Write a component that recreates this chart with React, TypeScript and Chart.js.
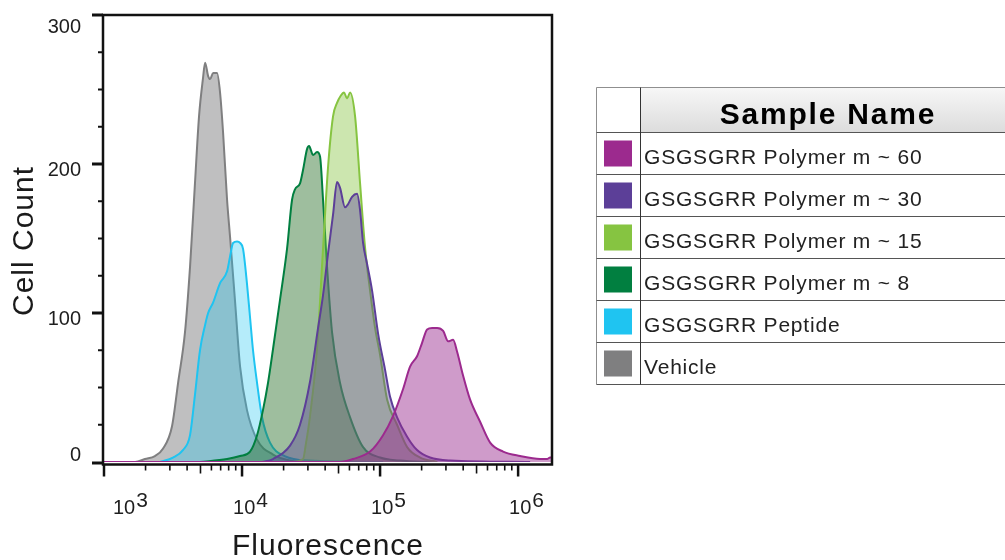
import { useEffect, useRef } from "react";
import { Chart, registerables } from "chart.js";

Chart.register(...registerables);

// Sample names, in table order (first one is drawn on top)
const sampleNames = [
  "GSGSGRR Polymer m ~ 60",
  "GSGSGRR Polymer m ~ 30",
  "GSGSGRR Polymer m ~ 15",
  "GSGSGRR Polymer m ~ 8",
  "GSGSGRR Peptide",
  "Vehicle",
];

const lineColors = ["#9c2a8e", "#5c3f98", "#86c441", "#017f40", "#1fc4f1", "#7f7f80"];
const fillColors = [
  "rgba(154, 42, 142, 0.47)",
  "rgba(91, 62, 152, 0.40)",
  "rgba(134, 196, 64, 0.42)",
  "rgba(40, 110, 40, 0.45)",
  "rgba(30, 197, 240, 0.33)",
  "rgba(128, 128, 130, 0.50)",
];

// Histogram bins: fluorescence intensity and cell count per sample
const m60Fluor = [1000, 51290, 63700, 84660, 105100, 124300, 146800, 164900, 185300, 201500, 219100, 238300, 259100, 286400, 311300, 338100, 361500, 399300, 448400, 530400, 627000, 778600, 1033000, 1442000, 1620000, 1706000, 1760000];
const m60Count = [0, 0, 2, 7, 18, 31, 49, 64, 71, 80, 89, 90, 90, 88, 81, 82, 74, 58, 42, 27, 13, 7, 4, 2, 2, 3, 3];

const m30Fluor = [14000, 16780, 22280, 26300, 31100, 35550, 38620, 41990, 45630, 48780, 51290, 55730, 58590, 62670, 68130, 71630, 75310, 80520, 87510, 96800, 108600, 118000, 132800, 157000, 185300, 230000, 321600, 1222000];
const m30Count = [0, 2, 11, 25, 54, 90, 112, 140, 166, 188, 184, 171, 173, 178, 180, 169, 147, 133, 115, 86, 62, 44, 30, 17, 8, 3, 1, 0];

const m15Fluor = [22280, 27660, 29000, 31100, 34940, 38620, 41990, 45630, 48780, 52000, 54830, 57630, 60630, 65910, 71630, 77800, 84660, 92000, 100000, 112400, 132800, 157000, 195000, 260000];
const m15Count = [0, 2, 12, 31, 76, 143, 198, 232, 241, 246, 248, 244, 248, 232, 187, 144, 115, 90, 72, 42, 25, 10, 3, 0];

const m8Fluor = [4960, 7790, 9680, 11430, 12850, 14190, 15420, 16780, 18850, 21180, 23030, 24200, 26300, 27660, 29570, 30590, 32680, 34940, 36730, 38620, 41290, 44890, 51290, 60630, 75310, 100000, 139000, 242000];
const m8Count = [0, 2, 4, 7, 18, 35, 53, 76, 109, 143, 176, 183, 187, 196, 210, 212, 206, 208, 205, 176, 131, 87, 53, 30, 10, 3, 1, 0];

const peptideFluor = [2540, 3160, 3730, 4200, 4560, 4960, 5400, 5680, 6170, 6930, 7790, 8190, 8610, 9210, 9680, 10170, 10850, 11430, 12010, 12850, 13960, 15940, 20400, 31100, 105100];
const peptideCount = [0, 3, 8, 18, 45, 75, 92, 100, 107, 120, 128, 138, 147, 148, 147, 143, 120, 97, 75, 53, 30, 13, 4, 1, 0];

const vehicleFluor = [1000, 1680, 1980, 2340, 2680, 3110, 3440, 3860, 4200, 4560, 4880, 5220, 5400, 5680, 5870, 6170, 6590, 6930, 7290, 7790, 8190, 8880, 9680, 10850, 12850, 16780, 22280, 31100];
const vehicleCount = [0, 0, 2, 4, 9, 24, 53, 87, 131, 187, 232, 258, 268, 259, 257, 261, 261, 248, 221, 176, 151, 109, 64, 35, 15, 5, 1, 0];

const fluorSeries = [m60Fluor, m30Fluor, m15Fluor, m8Fluor, peptideFluor, vehicleFluor];
const countSeries = [m60Count, m30Count, m15Count, m8Count, peptideCount, vehicleCount];

// Axis ticks
const fluorMin = 1000;
const fluorMax = 1760000;
const decadeExponents = [3, 4, 5, 6];
const minorMultipliers = [2, 3, 4, 5, 6, 7, 8, 9];
const countTicks = [0, 100, 200, 300];
const countMinorStep = 25;

const FONT = '"Liberation Sans", Arial, Helvetica, sans-serif';

const frameAndTicks = {
  id: "frameAndTicks",
  afterDatasetsDraw(chart: any) {
    const { ctx, chartArea: a, scales } = chart;
    const xs = scales.x;
    const ys = scales.y;
    const axisY = a.bottom + 2.5;
    const axisX = a.left - 1;
    ctx.save();
    ctx.strokeStyle = "#111";
    ctx.lineCap = "butt";

    // plot frame
    ctx.lineWidth = 2.5;
    ctx.beginPath();
    ctx.moveTo(axisX, a.top);
    ctx.lineTo(a.right + 1.25, a.top);
    ctx.moveTo(a.right, a.top);
    ctx.lineTo(a.right, axisY);
    ctx.moveTo(axisX, a.top - 1.25);
    ctx.lineTo(axisX, axisY + 1.25);
    ctx.moveTo(axisX, axisY);
    ctx.lineTo(a.right + 1.25, axisY);
    ctx.stroke();

    // count axis ticks
    const countMax = countTicks[countTicks.length - 1];
    for (let v = 0; v <= countMax; v += countMinorStep) {
      const major = countTicks.includes(v);
      const py = Math.min(ys.getPixelForValue(v) + (v === 0 ? 1 : 0), axisY);
      ctx.lineWidth = major ? 3 : 2;
      ctx.beginPath();
      ctx.moveTo(axisX - (major ? 11 : 5), py);
      ctx.lineTo(axisX, py);
      ctx.stroke();
    }

    // fluorescence axis ticks
    for (const e of decadeExponents) {
      const base = Math.pow(10, e);
      const px = xs.getPixelForValue(base);
      ctx.lineWidth = 2.5;
      ctx.beginPath();
      ctx.moveTo(px, axisY);
      ctx.lineTo(px, axisY + 12);
      ctx.stroke();
      for (const m of minorMultipliers) {
        const v = base * m;
        if (v > fluorMax) continue;
        const mx = xs.getPixelForValue(v);
        ctx.lineWidth = 1.6;
        ctx.beginPath();
        ctx.moveTo(mx, axisY);
        ctx.lineTo(mx, axisY + (m === 5 ? 9 : 6));
        ctx.stroke();
      }
    }

    // tick labels
    ctx.fillStyle = "#1e1e1e";
    ctx.textBaseline = "alphabetic";
    ctx.font = `20px ${FONT}`;
    ctx.textAlign = "right";
    for (const v of countTicks) {
      const py = ys.getPixelForValue(v);
      const center = Math.max(a.top + 11, Math.min(py + 5, a.bottom - 8));
      ctx.fillText(String(v), 81, center + 7);
    }
    ctx.textAlign = "left";
    for (const e of decadeExponents) {
      const px = xs.getPixelForValue(Math.pow(10, e));
      const start = Math.max(px - 9, a.left + 9);
      ctx.font = `20px ${FONT}`;
      ctx.fillText("10", start, 514);
      const w = ctx.measureText("10").width;
      ctx.font = `21px ${FONT}`;
      ctx.fillText(String(e), start + w + 1, 507);
    }

    // axis titles
    ctx.fillStyle = "#1a1a1a";
    ctx.font = `30px ${FONT}`;
    (ctx as any).letterSpacing = "1px";
    ctx.textAlign = "center";
    ctx.fillText("Fluorescence", (a.left + a.right) / 2, 555);
    ctx.save();
    ctx.translate(33, 241);
    ctx.rotate(-Math.PI / 2);
    ctx.fillText("Cell Count", 0, 0);
    ctx.restore();
    (ctx as any).letterSpacing = "0px";
    ctx.restore();
  },
};

const sampleTable = {
  id: "sampleTable",
  afterDraw(chart: any) {
    const { ctx } = chart;
    const ds = chart.data.datasets;
    const left = 596.5;
    const top = 87.5;
    const headH = 45;
    const rowH = 42;
    const divider = 640.5;
    const right = chart.width + 2;
    const bottom = top + headH + rowH * ds.length;
    ctx.save();

    const g = ctx.createLinearGradient(0, top, 0, top + headH);
    g.addColorStop(0, "#f7f7f7");
    g.addColorStop(1, "#dcdcdc");
    ctx.fillStyle = g;
    ctx.fillRect(divider, top, right - divider, headH);

    ctx.lineWidth = 1;
    ctx.strokeStyle = "#8f8f8f";
    ctx.beginPath();
    ctx.moveTo(left, top);
    ctx.lineTo(right, top);
    ctx.moveTo(left, top);
    ctx.lineTo(left, bottom);
    ctx.stroke();

    ctx.strokeStyle = "#555";
    ctx.beginPath();
    for (let i = 0; i <= ds.length; i++) {
      const y = top + headH + rowH * i;
      ctx.moveTo(left, y);
      ctx.lineTo(right, y);
    }
    ctx.stroke();

    ctx.strokeStyle = "#333";
    ctx.beginPath();
    ctx.moveTo(divider, top);
    ctx.lineTo(divider, bottom);
    ctx.stroke();

    ctx.fillStyle = "#000";
    ctx.textBaseline = "alphabetic";
    ctx.font = `bold 30px ${FONT}`;
    (ctx as any).letterSpacing = "1.8px";
    ctx.textAlign = "center";
    ctx.fillText("Sample Name", 828, top + 36);

    ctx.font = `21px ${FONT}`;
    (ctx as any).letterSpacing = "0.8px";
    ctx.textAlign = "left";
    ds.forEach((d: any, i: number) => {
      const rowTop = top + headH + rowH * i;
      ctx.fillStyle = d.borderColor;
      ctx.fillRect(604, rowTop + 8, 28, 26);
      ctx.fillStyle = "#222";
      ctx.fillText(d.label, 644, rowTop + 31);
    });
    (ctx as any).letterSpacing = "0px";
    ctx.restore();
  },
};

export default function App() {
  const canvasRef = useRef<HTMLCanvasElement | null>(null);

  useEffect(() => {
    const canvas = canvasRef.current;
    if (!canvas) return;
    const datasets = sampleNames.map((name, i) => ({
      label: name,
      data: fluorSeries[i].map((x, j) => ({ x, y: countSeries[i][j] })),
      borderColor: lineColors[i],
      backgroundColor: fillColors[i],
      borderWidth: 2,
      fill: "origin",
      pointRadius: 0,
      cubicInterpolationMode: "monotone" as const,
    }));
    const chart = new Chart(canvas, {
      type: "line",
      data: { datasets },
      options: {
        animation: false,
        responsive: false,
        devicePixelRatio: 1,
        layout: { padding: { left: 104, top: 15, right: 453, bottom: 98 } },
        scales: {
          x: { type: "logarithmic", min: fluorMin, max: fluorMax, display: false },
          y: { type: "linear", min: 0, max: countTicks[countTicks.length - 1], display: false },
        },
        plugins: { legend: { display: false }, tooltip: { enabled: false } },
      },
      plugins: [frameAndTicks, sampleTable],
    } as any);
    return () => chart.destroy();
  }, []);

  return (
    <div style={{ position: "fixed", left: 0, top: 0, width: 1005, height: 560, background: "#fff" }}>
      <canvas ref={canvasRef} width={1005} height={560} style={{ display: "block" }} />
    </div>
  );
}
